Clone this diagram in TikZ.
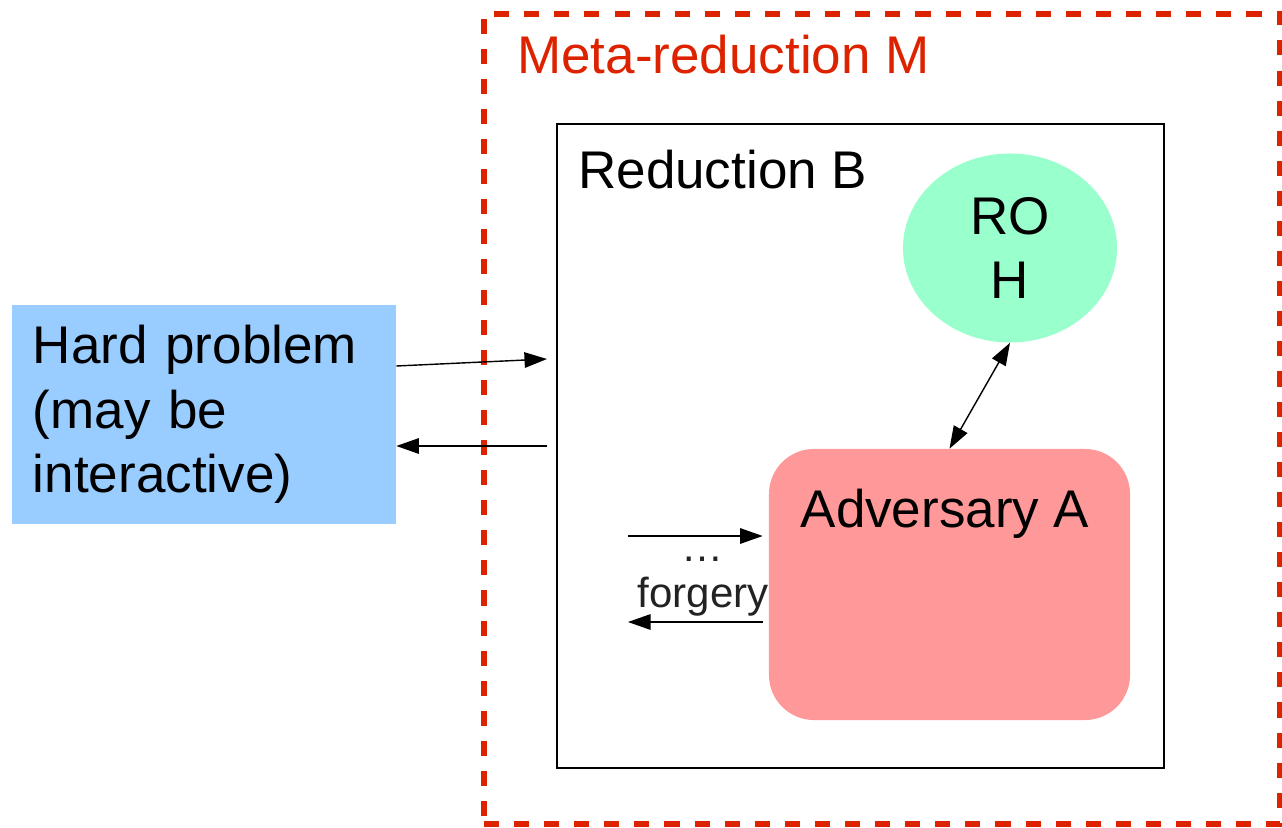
\documentclass[tikz,border=0pt]{standalone}
\usepackage{fontspec}
\setmainfont{Liberation Sans}
\usetikzlibrary{calc}
\usetikzlibrary{arrows.meta}
\usetikzlibrary{shapes.geometric}
\definecolor{metared}{RGB}{221,34,0}
\definecolor{hardblue}{RGB}{153,204,255}
\definecolor{rogreen}{RGB}{153,255,204}
\definecolor{advpink}{RGB}{255,153,153}
\definecolor{lbltext}{RGB}{34,34,34}
\newcommand\bigtxt[0]{\fontsize{37.7pt}{46pt}\selectfont}
\newcommand\smalltxt[0]{\fontsize{29.9pt}{32.7pt}\selectfont}
\tikzset{
  conn/.style={black, line width=1pt, -{Triangle[length=16pt,width=11pt]}},
  bothconn/.style={conn, {Triangle[length=16pt,width=11pt]}-{Triangle[length=16pt,width=11pt]}}
}

\begin{document}
\begin{tikzpicture}[x=0.025cm, y=-0.025cm, font=\bigtxt]

\useasboundingbox (0,0) rectangle (1282,828);

\node[draw=metared, line width=4.8pt, dash pattern=on 10.7pt off 10.7pt,
      minimum width=19.9cm, minimum height=20.25cm, inner sep=0] (meta) at (882,419) {};
\node[anchor=base west, text=metared, inner sep=0] (metatitle) at (517,73) {Meta-reduction M};

\node[draw=black, line width=1.2pt, minimum width=15.175cm, minimum height=16.1cm, inner sep=0] (red) at (860.5,446) {};
\node[anchor=base west, inner sep=0] (redtitle) at (578,188) {Reduction B};

\node[ellipse, fill=rogreen, minimum width=5.35cm, minimum height=4.725cm, inner sep=0, align=center] (ro) at (1010,248) {RO\\H};

\node[fill=advpink, rounded corners=1.125cm, minimum width=9.025cm, minimum height=6.775cm, inner sep=0] (adv) at (949.5,584.5) {};
\node[anchor=base, inner sep=0] (advtitle) at (945,527) {Adversary A};

\node[fill=hardblue, minimum width=9.6cm, minimum height=5.475cm, inner xsep=0.525cm,
      text width=8.55cm, align=left] (hard) at (204,414.5) {Hard problem\\(may be\\interactive)};

\coordinate (in1) at (547,359);
\coordinate (out1) at (547,446);
\coordinate (qry) at (628,536);
\coordinate (ans) at (628,622);

\draw[conn] ($(hard.east)+(0,-48.5)$) -- (in1);
\draw[conn] (out1) -- (hard.east |- out1);
\draw[bothconn] (ro.south) -- (adv.north);
\draw[conn] (qry) -- ([xshift=-0.15cm]adv.west |- qry);
\draw[conn] ([xshift=-0.15cm]adv.west |- ans) -- (ans);

\node[text=lbltext, align=center, inner sep=0, font=\smalltxt] (flbl) at (703,587) {\dots\\forgery};

\end{tikzpicture}
\end{document}
